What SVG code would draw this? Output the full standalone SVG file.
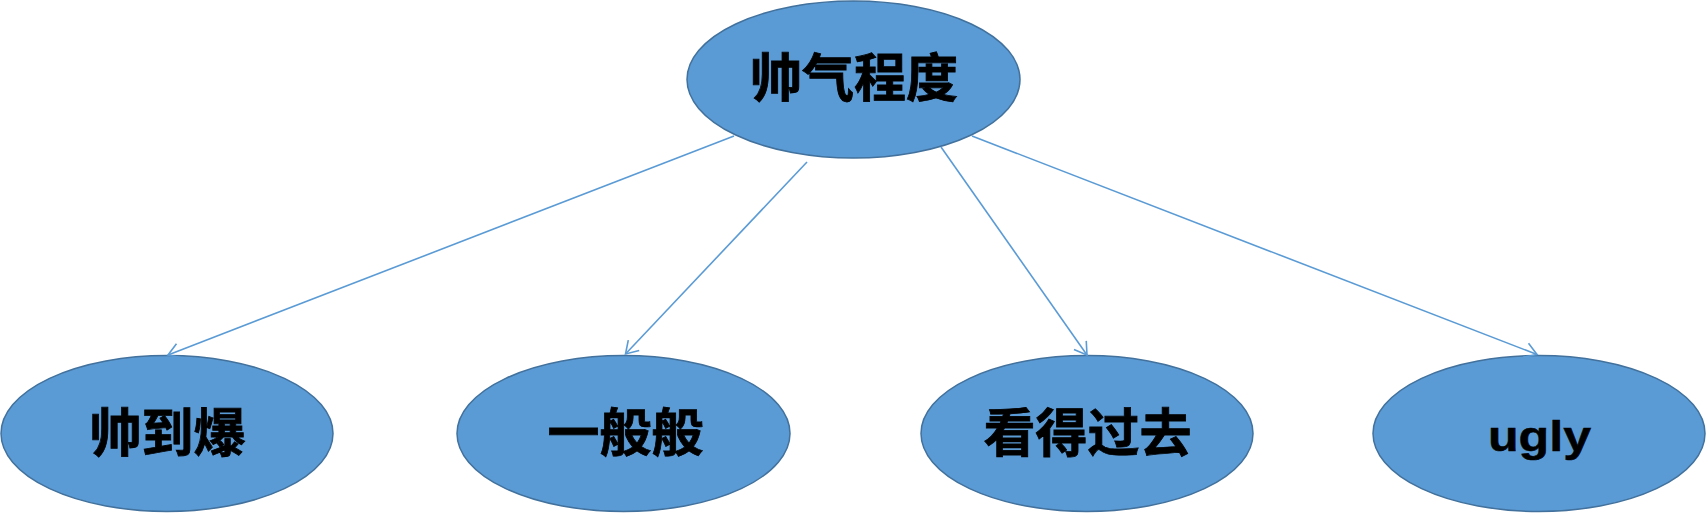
<svg xmlns="http://www.w3.org/2000/svg" width="1706" height="514" viewBox="0 0 1706 514">
  <style>
    .node ellipse { fill: #5B9BD5; stroke: #41719C; stroke-width: 1.5; }
    .node text { font-family: "Noto Sans CJK SC", "Liberation Sans", sans-serif; font-weight: bold; font-size: 52px; fill: #000000; stroke: #000000; stroke-width: 0.8; text-anchor: middle; }
    .node text.latin { font-family: "Liberation Sans", Arial, sans-serif; font-size: 42px; stroke-width: 0.5; }
    .edge { fill: none; stroke: #5B9BD5; stroke-width: 1.6; marker-end: url(#arrow); }
  </style>
  <defs>
    <marker id="arrow" markerUnits="userSpaceOnUse" viewBox="-15 -10 17 20" markerWidth="17" markerHeight="20" refX="0" refY="0" orient="auto" overflow="visible">
      <path d="M -12 -7.5 L 0 0 L -12 7.5" fill="none" stroke="#5B9BD5" stroke-width="1.6"/>
    </marker>
  </defs>
  <rect width="1706" height="514" fill="#FFFFFF"/>
  <g id="root" class="node">
    <ellipse cx="853.5" cy="79.5" rx="166.5" ry="78.5"/>
    <text x="854" y="96.5">帅气程度</text>
  </g>
  <g id="n1" class="node">
    <ellipse cx="167" cy="433.5" rx="166" ry="78"/>
    <text x="167.5" y="451.5">帅到爆</text>
  </g>
  <g id="n2" class="node">
    <ellipse cx="623.5" cy="433.5" rx="166.5" ry="78"/>
    <text x="625.5" y="451.5">一般般</text>
  </g>
  <g id="n3" class="node">
    <ellipse cx="1087" cy="433.5" rx="166" ry="78"/>
    <text x="1087.5" y="451.5">看得过去</text>
  </g>
  <g id="n4" class="node">
    <ellipse cx="1539" cy="433.5" rx="166" ry="78"/>
    <text class="latin" x="1539.5" y="451" textLength="103" lengthAdjust="spacingAndGlyphs">ugly</text>
  </g>
  <g id="connectors">
    <line class="edge" x1="734" y1="136" x2="168" y2="355"/>
    <line class="edge" x1="807" y1="162" x2="625.5" y2="354"/>
    <line class="edge" x1="941" y1="147" x2="1087" y2="355"/>
    <line class="edge" x1="972" y1="136" x2="1537" y2="354.5"/>
  </g>
</svg>
